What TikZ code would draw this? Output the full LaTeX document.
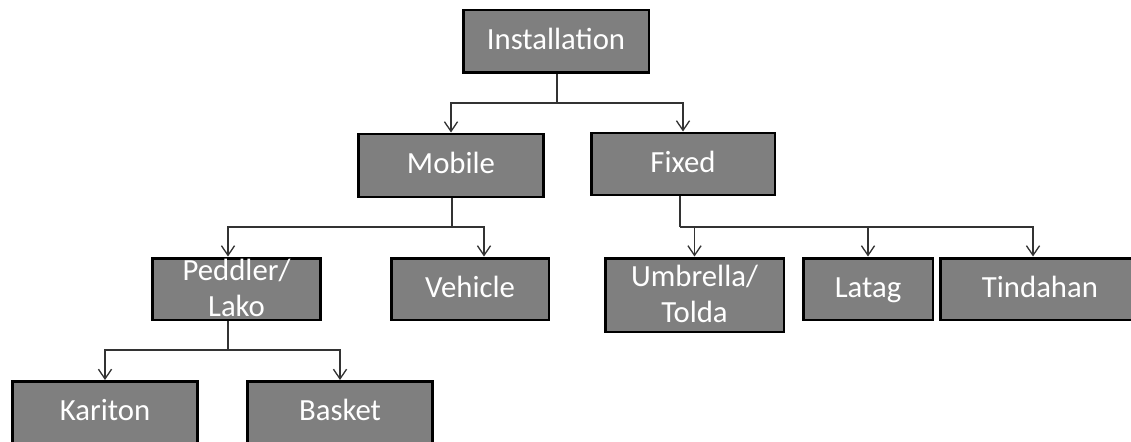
\documentclass[tikz,border=0pt]{standalone}
\usepackage{fontspec}
\setmainfont{Carlito}
\usetikzlibrary{arrows.meta}
\definecolor{boxgray}{HTML}{7F7F7F}
\tikzset{
  box/.style={draw=black, line width=1.7pt, fill=boxgray, text=white,
    inner sep=0pt, align=center, minimum height=1.24cm,
    font=\fontsize{17.5}{20.5}\selectfont},
  oneline/.style={box, text height=13.6pt, text depth=4pt},
  twoline/.style={box, text height=33.4pt, text depth=1.6pt},
  stem/.style={draw=black!80, line width=0.75pt},
  link/.style={stem, -{Straight Barb[length=5.5pt,width=7.5pt]}}
}

\begin{document}
\begin{tikzpicture}[x=0.02cm, y=-0.02cm]
\clip (0,0) rectangle (1131,442);

\node[oneline, minimum width=3.72cm, minimum height=1.26cm] (install) at (556,41.5) {Installation};

\node[oneline, minimum width=3.72cm, minimum height=1.26cm] (mobile) at (451,165.5) {Mobile};
\node[oneline, minimum width=3.68cm] (fixed) at (683,164) {Fixed};

\node[twoline, minimum width=3.38cm] (peddler) at (236.5,289) {Peddler/\\Lako};
\node[oneline, minimum width=3.16cm] (vehicle) at (470,289) {Vehicle};
\node[twoline, minimum width=3.58cm, minimum height=1.48cm] (umbrella) at (694.5,295) {Umbrella/\\Tolda};
\node[oneline, minimum width=2.6cm] (latag) at (868,289) {Latag};
\node[oneline, minimum width=4.0cm] (tindahan) at (1040,289) {Tindahan};

\node[oneline, minimum width=3.72cm] (kariton) at (105,412.5) {Kariton};
\node[oneline, minimum width=3.72cm] (basket) at (340,412.5) {Basket};

\coordinate (j0) at (557,103);
\coordinate (j1) at (452,227);
\coordinate (j2) at (680,227);
\coordinate (j3) at (228,350);

\draw[stem] (install.south -| j0) -- (j0);
\draw[link] (j0) -| (mobile.north);
\draw[link] (j0) -| (fixed.north);

\draw[stem] (mobile.south -| j1) -- (j1);
\draw[link] (j1) -| (peddler.north -| j3);
\draw[link] (j1) -| ([xshift=0.28cm]vehicle.north);

\draw[stem] (fixed.south -| j2) -- (j2);
\draw[link] (j2) -| (umbrella.north);
\draw[link] (j2) -| (latag.north);
\draw[link] (j2) -| ([xshift=-0.14cm]tindahan.north);

\draw[stem] (peddler.south -| j3) -- (j3);
\draw[link] (j3) -| (kariton.north);
\draw[link] (j3) -| (basket.north);
\end{tikzpicture}
\end{document}
